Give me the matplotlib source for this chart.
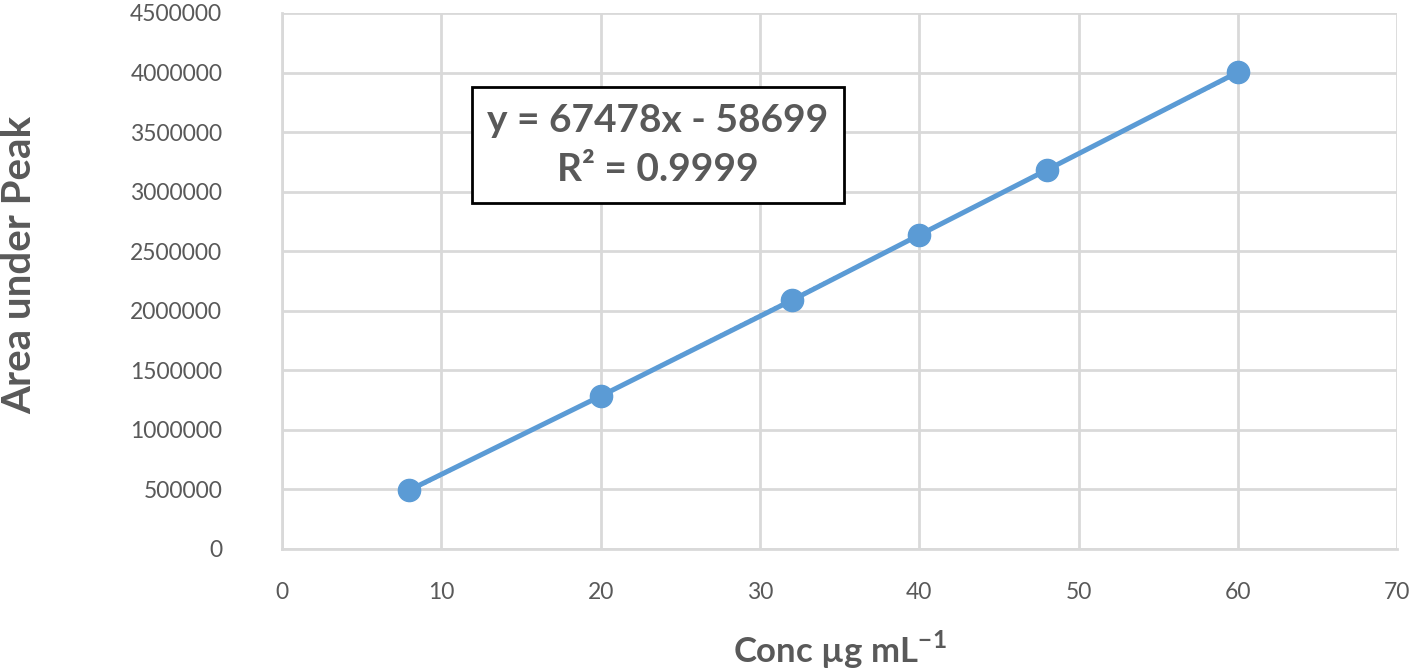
import numpy as np
import matplotlib.pyplot as plt

conc = [8, 20, 32, 40, 48, 60]
area = [495000, 1284000, 2088000, 2636000, 3182000, 4003000]
slope = 67478
intercept = -58699
eq_text = "y = 67478x - 58699\nR² = 0.9999"

plt.rcParams["font.family"] = ["Lato", "DejaVu Sans"]
plt.rcParams["mathtext.fontset"] = "custom"
plt.rcParams["mathtext.rm"] = "Lato"
plt.rcParams["mathtext.bf"] = "Lato:bold"

blue = "#5B9BD5"
grey = "#595959"
gridc = "#d9d9d9"

fig = plt.figure(figsize=(14.18, 6.70), dpi=100)
ax = fig.add_axes([0.1989, 0.1806, 0.7864, 0.8000])

ax.plot(conc, area, color=blue, lw=3.6, marker="o", ms=16, zorder=3)
fit_x = np.array([min(conc), max(conc)])
ax.plot(fit_x, slope * fit_x + intercept, color=blue, lw=1.5, ls=":", zorder=2)

ax.set_xlim(0, 70)
ax.set_ylim(0, 4500000)
ax.set_xticks(range(0, 71, 10))
ax.set_yticks(range(0, 4500001, 500000))
ax.ticklabel_format(axis="y", style="plain", useOffset=False)
ax.grid(True, color=gridc, lw=2)
ax.set_axisbelow(True)
for s in ax.spines.values():
    s.set_visible(False)
for side in ("left", "bottom"):
    ax.spines[side].set_visible(True)
    ax.spines[side].set_color(gridc)
    ax.spines[side].set_linewidth(2)
ax.tick_params(length=0, labelsize=16.5, labelcolor=grey)
ax.tick_params(axis="y", pad=43)
ax.tick_params(axis="x", pad=24)

ax.set_xlabel(r"Conc µg mL$^{\mathbf{-1}}$", fontsize=25, fontweight="bold", color=grey)
ax.set_ylabel("Area under Peak", fontsize=29, fontweight="bold", color=grey)
ax.xaxis.set_label_coords(0.5, -0.148)
ax.yaxis.set_label_coords(-0.219, 0.53)

ax.text(23.6, 3390000, eq_text, ha="center", va="center", fontsize=28, fontweight="bold",
        color=grey, linespacing=1.5,
        bbox=dict(boxstyle="square,pad=0.4", fc="white", ec="black", lw=2))

fig.savefig("out.png", dpi=100)
